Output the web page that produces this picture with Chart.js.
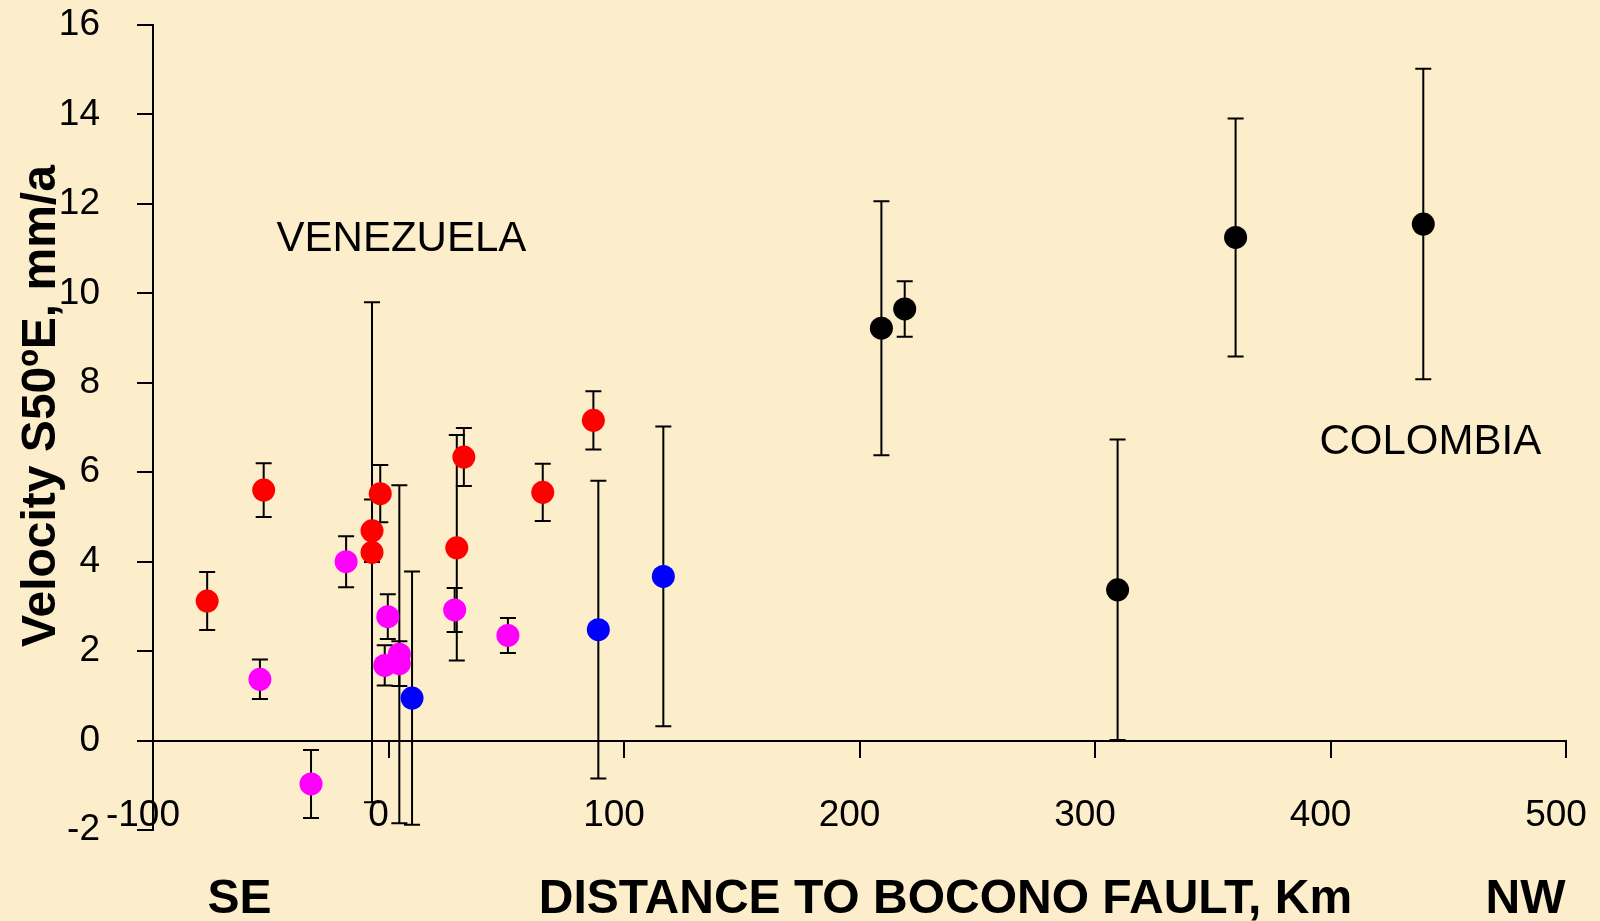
<!DOCTYPE html>
<html>
<head>
<meta charset="utf-8">
<script src="https://cdn.jsdelivr.net/npm/chart.js@4/dist/chart.umd.min.js"></script>
<style>
    html, body { margin: 0; padding: 0; background: #FCEDCB; }
    #wrap { width: 1600px; height: 921px; }
</style>
</head>
<body>
<div id="wrap"><canvas id="chart" width="1600" height="921"></canvas></div>
<script>
// Axis ticks
const xTicks = [-100, 0, 100, 200, 300, 400, 500];
const yTicks = [-2, 0, 2, 4, 6, 8, 10, 12, 14, 16];

// Red stations: distance (km), velocity (mm/a), error
const redX = [-77, -53, -7, -7, -3.5, 29, 32, 65.5, 87];
const redY = [3.12, 5.60, 4.69, 4.21, 5.52, 4.31, 6.34, 5.55, 7.16];
const redErr = [0.65, 0.6, 0.7, 5.59, 0.64, 2.52, 0.65, 0.64, 0.65];

// Magenta stations
const magX = [-54.6, -32.9, -18, -0.3, -1.6, 4.6, 4.6, 28.1, 50.7];
const magY = [1.37, -0.97, 4.00, 2.77, 1.68, 1.93, 1.72, 2.92, 2.35];
const magErr = [0.44, 0.76, 0.57, 0.5, 0.45, 3.78, 0.5, 0.49, 0.39];

// Blue stations
const blueX = [10, 89.1, 116.7];
const blueY = [0.95, 2.48, 3.67];
const blueErr = [2.83, 3.33, 3.35];

// Black stations (Colombia)
const blackX = [209.3, 219.2, 309.6, 359.7, 439.4];
const blackY = [9.22, 9.65, 3.37, 11.25, 11.55];
const blackErr = [2.84, 0.62, 3.36, 2.66, 3.47];

const FONT = "'Liberation Sans', Arial, sans-serif";

// Text labels, anchored in data units
const notes = [
    { text: 'VENEZUELA', x: 5.5, y: 10.95, size: 42, weight: 'normal' },
    { text: 'COLOMBIA', x: 442.4, y: 6.41, size: 42, weight: 'normal' },
    { text: 'SE', x: -63.3, y: -3.845, size: 48, weight: 'bold' },
    { text: 'DISTANCE TO BOCONO FAULT, Km', x: 236.5, y: -3.845, size: 48, weight: 'bold' },
    { text: 'NW', x: 482.8, y: -3.845, size: 48, weight: 'bold' }
];
const yTitle = 'Velocity S50ºE, mm/a';

function makeSet(xs, ys, errs, color) {
    return {
        data: xs.map((x, i) => ({ x: x, y: ys[i] })),
        errors: errs,
        backgroundColor: color,
        borderWidth: 0,
        pointRadius: 11.5,
        pointHoverRadius: 11.5
    };
}

// Draw vertical error bars behind the points
const errorBars = {
    id: 'errorBars',
    beforeDatasetsDraw(chart) {
        const ctx = chart.ctx;
        const xs = chart.scales.x;
        const ys = chart.scales.y;
        ctx.save();
        ctx.strokeStyle = '#000';
        ctx.lineWidth = 2;
        chart.data.datasets.forEach(ds => {
            ds.data.forEach((p, i) => {
                const e = ds.errors[i];
                const px = xs.getPixelForValue(p.x);
                const top = ys.getPixelForValue(p.y + e);
                const bot = ys.getPixelForValue(p.y - e);
                ctx.beginPath();
                ctx.moveTo(px, top);
                ctx.lineTo(px, bot);
                ctx.moveTo(px - 8, top);
                ctx.lineTo(px + 8, top);
                ctx.moveTo(px - 8, bot);
                ctx.lineTo(px + 8, bot);
                ctx.stroke();
            });
        });
        ctx.restore();
    }
};

// Free text: region names, axis titles
const textNotes = {
    id: 'textNotes',
    afterDraw(chart) {
        const ctx = chart.ctx;
        const xs = chart.scales.x;
        const ys = chart.scales.y;
        ctx.save();
        ctx.fillStyle = '#000';
        ctx.textAlign = 'center';
        ctx.textBaseline = 'alphabetic';
        notes.forEach(n => {
            ctx.font = n.weight + ' ' + n.size + 'px ' + FONT;
            ctx.fillText(n.text, xs.getPixelForValue(n.x), ys.getPixelForValue(n.y));
        });
        // y axis title, rotated
        ctx.translate(55, 406);
        ctx.rotate(-Math.PI / 2);
        ctx.font = 'bold 48px ' + FONT;
        ctx.fillText(yTitle, 0, 0);
        ctx.restore();
    }
};

// keep the layout padding in charge, not the label overhang
function noPad(s) {
    s.paddingTop = 0;
    s.paddingBottom = 0;
    s.paddingLeft = 0;
    s.paddingRight = 0;
}

const axisStyle = {
    grid: { drawOnChartArea: false, drawTicks: true, tickLength: 16, lineWidth: 2, color: '#000', tickColor: '#000' },
    border: { display: true, color: '#000', width: 2 }
};

window.onload = function() {
    const ctx = document.getElementById('chart').getContext('2d');
    new Chart(ctx, {
        type: 'scatter',
        data: {
            datasets: [
                makeSet(redX, redY, redErr, '#FF0000'),
                makeSet(magX, magY, magErr, '#FF00FF'),
                makeSet(blueX, blueY, blueErr, '#0000FF'),
                makeSet(blackX, blackY, blackErr, '#000000')
            ]
        },
        options: {
            responsive: false,
            animation: false,
            devicePixelRatio: 1,
            layout: { padding: { top: 25, right: 34, bottom: 91, left: 0 } },
            plugins: {
                legend: { display: false },
                tooltip: { enabled: false }
            },
            scales: {
                x: {
                    type: 'linear',
                    min: -100,
                    max: 500,
                    position: { y: 0 },
                    afterBuildTicks: s => { s.ticks = xTicks.map(v => ({ value: v })); },
                    afterFit: noPad,
                    grid: axisStyle.grid,
                    border: axisStyle.border,
                    ticks: {
                        color: '#000',
                        font: { family: FONT, size: 37 },
                        padding: 37,
                        labelOffset: -10,
                        maxRotation: 0,
                        autoSkip: false
                    }
                },
                y: {
                    type: 'linear',
                    min: -2,
                    max: 16,
                    position: 'left',
                    afterBuildTicks: s => { s.ticks = yTicks.map(v => ({ value: v })); },
                    afterFit: s => { s.width = 153; noPad(s); },
                    grid: axisStyle.grid,
                    border: axisStyle.border,
                    ticks: {
                        color: '#000',
                        font: { family: FONT, size: 37 },
                        padding: 37,
                        autoSkip: false
                    }
                }
            }
        },
        plugins: [errorBars, textNotes]
    });
};
</script>
</body>
</html>
